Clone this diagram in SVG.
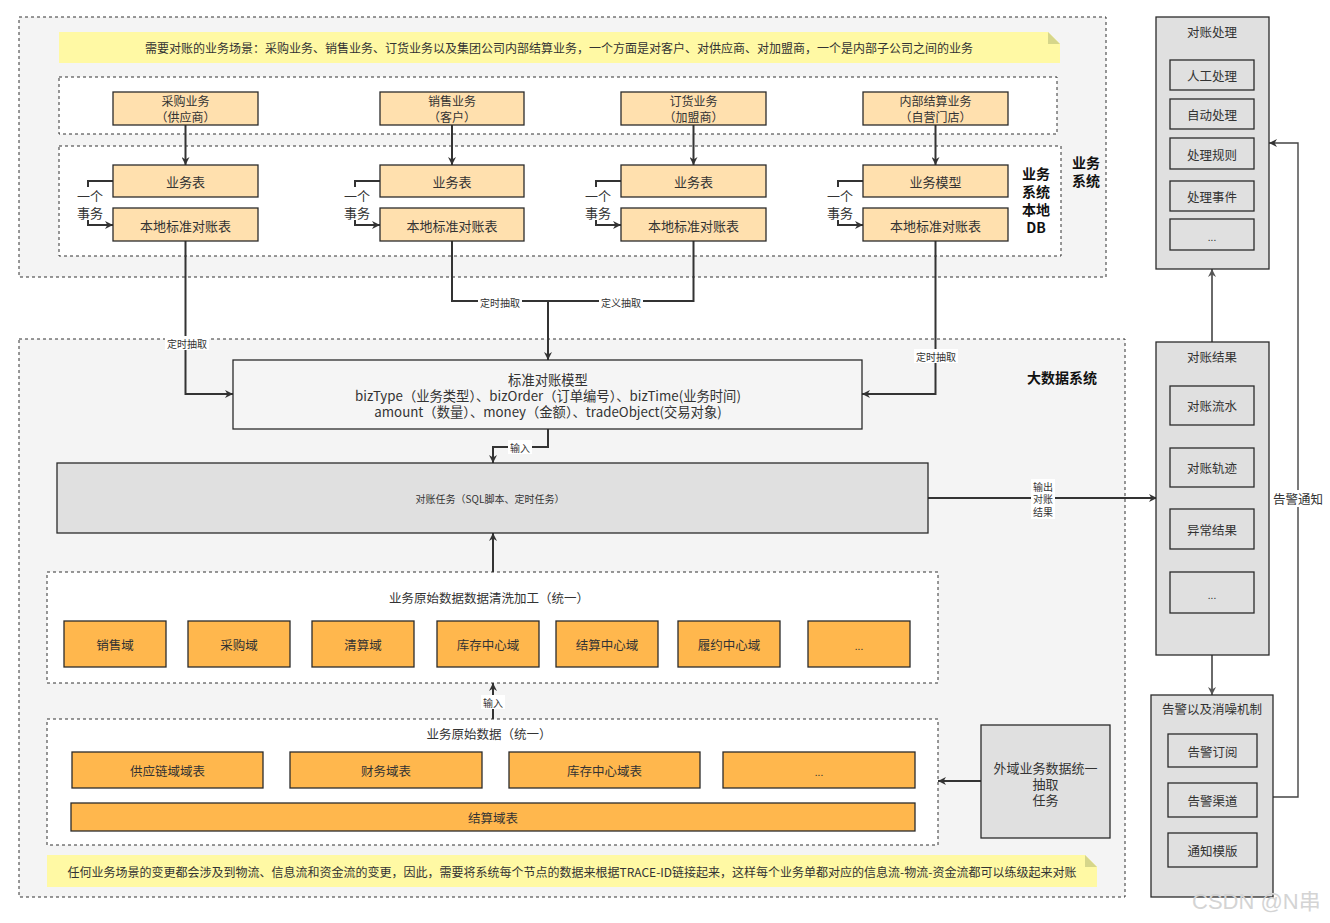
<svg xmlns="http://www.w3.org/2000/svg" width="1330" height="923" viewBox="0 0 1330 923">
<defs>
<style>
text{font-family:"Noto Sans CJK SC","Noto Sans",sans-serif;fill:#333;text-anchor:middle;dominant-baseline:central}
.c{fill:#f4f4f4;stroke:#333;stroke-dasharray:3 3}
.w{fill:#fff;stroke:#333;stroke-dasharray:3 3}
.p{fill:#ffe0ae;stroke:#2b2b2b;stroke-width:1.3}
.o{fill:#ffb74d;stroke:#2b2b2b;stroke-width:1.3}
.g{fill:#e0e0e0;stroke:#2b2b2b;stroke-width:1.3}
.m{fill:#f5f5f5;stroke:#2b2b2b;stroke-width:1.3}
.e{fill:none;stroke:#333;stroke-width:2}
.eg{fill:none;stroke:#6a6a6a;stroke-width:2}
.et{fill:none;stroke:#444;stroke-width:1.4}
.lb{fill:#fff}
.s12{font-size:12.5px}
.s11{font-size:12px}
.s13{font-size:13px}
.s13b{font-size:13.3px}
.s10{font-size:10px}
.b{font-weight:bold;font-size:14px;fill:#111}
.note{fill:#fff9a4}
.fold{fill:#d6d68a}
.wm{font-family:"Liberation Sans","Noto Sans CJK SC",sans-serif;font-size:22px;fill:#d4d4d4;text-anchor:start}
</style>
<marker id="a" viewBox="0 0 10 10" refX="10" refY="5" markerWidth="9" markerHeight="8" markerUnits="userSpaceOnUse" orient="auto"><path d="M0,0 L10,5 L0,10 L3,5 z" fill="#333"/></marker>
<marker id="ag" viewBox="0 0 10 10" refX="10" refY="5" markerWidth="9" markerHeight="8" markerUnits="userSpaceOnUse" orient="auto"><path d="M0,0 L10,5 L0,10 L3,5 z" fill="#555"/></marker>
</defs>
<rect width="1330" height="923" fill="#fff"/>

<!-- containers -->
<g id="biz-system">
<rect class="c" x="19" y="17" width="1087" height="260"/>
<text class="b" x="1086" y="162">业务</text>
<text class="b" x="1086" y="180">系统</text>
</g>
<g id="note-top">
<polygon class="note" points="59,32 1048,32 1060,44 1060,63 59,63"/>
<polygon class="fold" points="1048,32 1048,44 1060,44"/>
<text class="s11" x="559" y="47">需要对账的业务场景：采购业务、销售业务、订货业务以及集团公司内部结算业务，一个方面是对客户、对供应商、对加盟商，一个是内部子公司之间的业务</text>
</g>
<g id="scenario-area"><rect class="w" x="59" y="77" width="998" height="57"/></g>
<g id="local-db">
<rect class="w" x="59" y="146" width="1002" height="110"/>
<text class="b" x="1036" y="173">业务</text>
<text class="b" x="1036" y="191">系统</text>
<text class="b" x="1036" y="209">本地</text>
<text class="b" x="1036" y="227">DB</text>
</g>
<g id="bigdata-system">
<rect class="c" x="19" y="339" width="1106" height="558"/>
<text class="b" x="1062" y="377">大数据系统</text>
</g>
<g id="cleaning">
<rect class="w" x="47" y="572" width="891" height="111"/>
<text class="s12" x="489" y="597">业务原始数据数据清洗加工（统一）</text>
</g>
<g id="raw-data">
<rect class="w" x="47" y="719" width="891" height="126"/>
<text class="s12" x="489" y="733">业务原始数据（统一）</text>
</g>
<g id="note-bottom">
<polygon class="note" points="47,855 1085,855 1097,867 1097,887 47,887"/>
<polygon class="fold" points="1085,855 1085,867 1097,867"/>
<text class="s11" x="572" y="871">任何业务场景的变更都会涉及到物流、信息流和资金流的变更，因此，需要将系统每个节点的数据来根据TRACE-ID链接起来，这样每个业务单都对应的信息流-物流-资金流都可以练级起来对账</text>
</g>

<!-- connectors -->
<g id="connectors">
<path class="e" d="M185.5,125 V165" marker-end="url(#a)"/>
<path class="e" d="M452,125 V165" marker-end="url(#a)"/>
<path class="e" d="M693.5,125 V165" marker-end="url(#a)"/>
<path class="e" d="M935.5,125 V165" marker-end="url(#a)"/>

<path class="e" d="M113,181 H88 V225 H113" marker-end="url(#a)"/>
<path class="e" d="M380,181 H355 V225 H380" marker-end="url(#a)"/>
<path class="e" d="M621,181 H596 V225 H621" marker-end="url(#a)"/>
<path class="e" d="M863,181 H838 V225 H863" marker-end="url(#a)"/>
<rect class="lb" x="76" y="187" width="28" height="33"/>
<rect class="lb" x="343" y="187" width="28" height="33"/>
<rect class="lb" x="584" y="187" width="28" height="33"/>
<rect class="lb" x="826" y="187" width="28" height="33"/>
<text class="s13" x="90" y="195">一个</text><text class="s13" x="90" y="212">事务</text>
<text class="s13" x="357" y="195">一个</text><text class="s13" x="357" y="212">事务</text>
<text class="s13" x="598" y="195">一个</text><text class="s13" x="598" y="212">事务</text>
<text class="s13" x="840" y="195">一个</text><text class="s13" x="840" y="212">事务</text>

<path class="e" d="M185.5,241 V394 H233" marker-end="url(#a)"/>
<rect class="lb" x="165" y="336" width="44" height="14"/>
<text class="s10" x="187" y="343">定时抽取</text>

<path class="e" d="M452,241 V301 H548"/>
<path class="e" d="M693.5,241 V301 H548"/>
<path class="e" d="M548,301 V360" marker-end="url(#a)"/>
<rect class="lb" x="478" y="295" width="44" height="14"/>
<text class="s10" x="500" y="302">定时抽取</text>
<rect class="lb" x="599" y="295" width="44" height="14"/>
<text class="s10" x="621" y="302">定义抽取</text>

<path class="e" d="M935.5,241 V394 H862" marker-end="url(#a)"/>
<rect class="lb" x="914" y="349" width="44" height="14"/>
<text class="s10" x="936" y="356">定时抽取</text>

<path class="e" d="M548,429 V447 H493 V463" marker-end="url(#a)"/>
<rect class="lb" x="508" y="440" width="24" height="14"/>
<text class="s10" x="520" y="447">输入</text>

<path class="e" d="M928,498 H1157" marker-end="url(#a)"/>
<rect class="lb" x="1031" y="479" width="24" height="40"/>
<text class="s10" x="1043" y="486">输出</text>
<text class="s10" x="1043" y="498.5">对账</text>
<text class="s10" x="1043" y="511">结果</text>

<path class="e" d="M493,572 V533" marker-end="url(#a)"/>

<path class="e" d="M493,719 V683" marker-end="url(#a)"/>
<rect class="lb" x="481" y="695" width="24" height="14"/>
<text class="s10" x="493" y="702">输入</text>

<path class="e" d="M981,781 H938" marker-end="url(#a)"/>

<path class="eg" d="M1212,342 V269" marker-end="url(#ag)"/>
<path class="eg" d="M1212,655 V695" marker-end="url(#ag)"/>

<path class="et" d="M1273,797 H1298 V143 H1269" marker-end="url(#a)"/>
<rect class="lb" x="1273" y="490" width="50" height="17"/>
<text class="s12" x="1298" y="498">告警通知</text>
</g>

<!-- business nodes -->
<g id="n-purchase"><rect class="p" x="113" y="92" width="145" height="33"/><text class="s11" x="185.5" y="100.5">采购业务</text><text class="s11" x="185.5" y="116.5">（供应商）</text></g>
<g id="n-sales"><rect class="p" x="380" y="92" width="144" height="33"/><text class="s11" x="452" y="100.5">销售业务</text><text class="s11" x="452" y="116.5">（客户）</text></g>
<g id="n-order"><rect class="p" x="621" y="92" width="145" height="33"/><text class="s11" x="693.5" y="100.5">订货业务</text><text class="s11" x="693.5" y="116.5">（加盟商）</text></g>
<g id="n-internal"><rect class="p" x="863" y="92" width="145" height="33"/><text class="s11" x="935.5" y="100.5">内部结算业务</text><text class="s11" x="935.5" y="116.5">（自营门店）</text></g>

<g id="n-biztable1"><rect class="p" x="113" y="165" width="145" height="32"/><text class="s13" x="185.5" y="181">业务表</text></g>
<g id="n-biztable2"><rect class="p" x="380" y="165" width="144" height="32"/><text class="s13" x="452" y="181">业务表</text></g>
<g id="n-biztable3"><rect class="p" x="621" y="165" width="145" height="32"/><text class="s13" x="693.5" y="181">业务表</text></g>
<g id="n-bizmodel4"><rect class="p" x="863" y="165" width="145" height="32"/><text class="s13" x="935.5" y="181">业务模型</text></g>

<g id="n-local1"><rect class="p" x="113" y="208" width="145" height="33"/><text class="s13" x="185.5" y="225">本地标准对账表</text></g>
<g id="n-local2"><rect class="p" x="380" y="208" width="144" height="33"/><text class="s13" x="452" y="225">本地标准对账表</text></g>
<g id="n-local3"><rect class="p" x="621" y="208" width="145" height="33"/><text class="s13" x="693.5" y="225">本地标准对账表</text></g>
<g id="n-local4"><rect class="p" x="863" y="208" width="145" height="33"/><text class="s13" x="935.5" y="225">本地标准对账表</text></g>

<!-- big data nodes -->
<g id="n-std-model"><rect class="m" x="233" y="360" width="629" height="69"/>
<text class="s13b" x="548" y="379">标准对账模型</text>
<text class="s13b" x="548" y="395">bizType（业务类型）、bizOrder（订单编号）、bizTime(业务时间)</text>
<text class="s13b" x="548" y="411">amount（数量）、money（金额）、tradeObject(交易对象)</text></g>

<g id="n-task"><rect class="g" x="57" y="463" width="871" height="70"/><text class="s10" x="490" y="498">对账任务（SQL脚本、定时任务）</text></g>

<g id="d-sales"><rect class="o" x="64" y="621" width="102" height="46"/><text class="s12" x="115" y="644">销售域</text></g>
<g id="d-purchase"><rect class="o" x="188" y="621" width="102" height="46"/><text class="s12" x="239" y="644">采购域</text></g>
<g id="d-clearing"><rect class="o" x="312" y="621" width="102" height="46"/><text class="s12" x="363" y="644">清算域</text></g>
<g id="d-inventory"><rect class="o" x="437" y="621" width="102" height="46"/><text class="s12" x="488" y="644">库存中心域</text></g>
<g id="d-settle"><rect class="o" x="556" y="621" width="102" height="46"/><text class="s12" x="607" y="644">结算中心域</text></g>
<g id="d-fulfil"><rect class="o" x="678" y="621" width="102" height="46"/><text class="s12" x="729" y="644">履约中心域</text></g>
<g id="d-more"><rect class="o" x="808" y="621" width="102" height="46"/><text class="s10" x="859" y="645">...</text></g>

<g id="t-supply"><rect class="o" x="72" y="752" width="191" height="36"/><text class="s12" x="167.5" y="770">供应链域域表</text></g>
<g id="t-finance"><rect class="o" x="290" y="752" width="192" height="36"/><text class="s12" x="386" y="770">财务域表</text></g>
<g id="t-inventory"><rect class="o" x="509" y="752" width="191" height="36"/><text class="s12" x="604.5" y="770">库存中心域表</text></g>
<g id="t-more"><rect class="o" x="723" y="752" width="192" height="36"/><text class="s10" x="819" y="771">...</text></g>
<g id="t-settle"><rect class="o" x="71" y="803" width="844" height="28"/><text class="s12" x="493" y="817">结算域表</text></g>

<g id="n-external"><rect class="g" x="981" y="725" width="129" height="113"/>
<text class="s13" x="1045.5" y="767">外域业务数据统一</text>
<text class="s13" x="1045.5" y="783">抽取</text>
<text class="s13" x="1045.5" y="799">任务</text></g>

<!-- right column -->
<g id="n-process"><rect class="g" x="1156" y="17" width="113" height="252"/>
<text class="s12" x="1212" y="31">对账处理</text>
<rect class="g" x="1170" y="60" width="84" height="30"/><text class="s12" x="1212" y="75">人工处理</text>
<rect class="g" x="1170" y="99" width="84" height="30"/><text class="s12" x="1212" y="114">自动处理</text>
<rect class="g" x="1170" y="138" width="84" height="31"/><text class="s12" x="1212" y="154">处理规则</text>
<rect class="g" x="1170" y="181" width="84" height="30"/><text class="s12" x="1212" y="196">处理事件</text>
<rect class="g" x="1170" y="219" width="84" height="31"/><text class="s10" x="1212" y="236">...</text></g>

<g id="n-result"><rect class="g" x="1156" y="342" width="113" height="313"/>
<text class="s12" x="1212" y="356">对账结果</text>
<rect class="g" x="1170" y="386" width="84" height="39"/><text class="s12" x="1212" y="405.5">对账流水</text>
<rect class="g" x="1170" y="448" width="84" height="39"/><text class="s12" x="1212" y="467.5">对账轨迹</text>
<rect class="g" x="1170" y="509" width="84" height="40"/><text class="s12" x="1212" y="529">异常结果</text>
<rect class="g" x="1170" y="572" width="84" height="41"/><text class="s10" x="1212" y="594">...</text></g>

<g id="n-alarm"><rect class="g" x="1151" y="695" width="122" height="202"/>
<text class="s12" x="1212" y="708">告警以及消噪机制</text>
<rect class="g" x="1168" y="734" width="89" height="33"/><text class="s12" x="1212.5" y="751">告警订阅</text>
<rect class="g" x="1168" y="783" width="89" height="34"/><text class="s12" x="1212.5" y="800">告警渠道</text>
<rect class="g" x="1168" y="833" width="89" height="34"/><text class="s12" x="1212.5" y="850">通知模版</text></g>

<text class="wm" x="1192" y="901">CSDN @N串</text>
</svg>
